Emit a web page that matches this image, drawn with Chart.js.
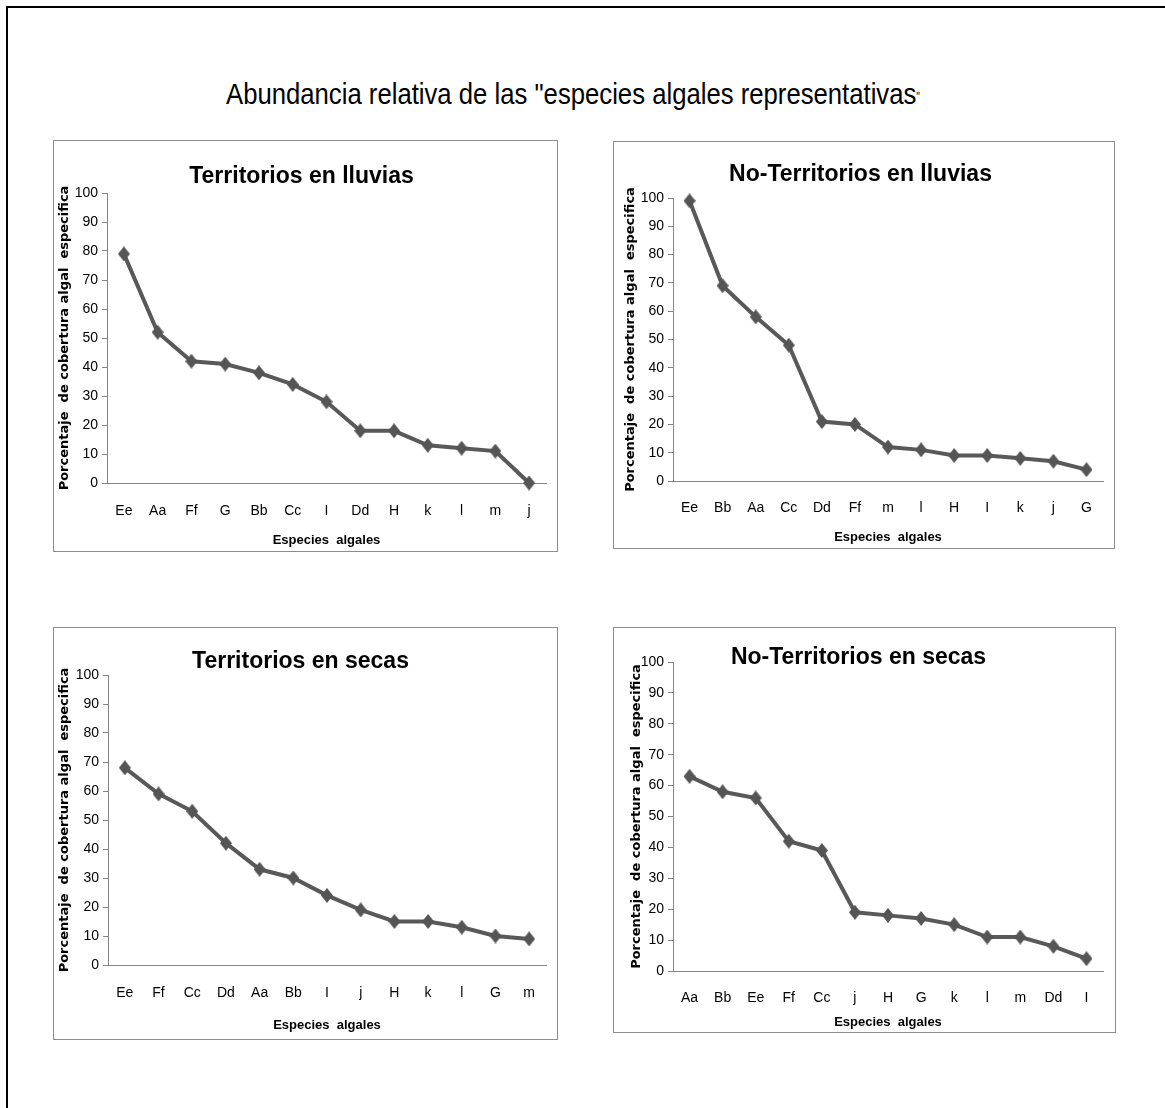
<!DOCTYPE html>
<html>
<head>
<meta charset="utf-8">
<script src="https://cdn.jsdelivr.net/npm/chart.js@4.4.1/dist/chart.umd.min.js"></script>
<style>
  body { margin: 0; background: #fff; width: 1165px; height: 1108px; position: relative; overflow: hidden;
         font-family: 'Liberation Sans', Arial, sans-serif; }
  #frame { position: absolute; left: 6px; top: 6px; width: 1300px; height: 1300px;
           border-top: 2px solid #000; border-left: 2px solid #000; }
  #title { position: absolute; left: 226px; top: 79px; font-size: 30px; line-height: 30px; white-space: nowrap;
           transform-origin: 0 0; color: #000; }
  #title .q { font-size: 12px; vertical-align: 3px; }
  .box { position: absolute; border: 1px solid #8c8c8c; background: #fff; }
  .box canvas { position: absolute; left: 0; top: 0; }
</style>
</head>
<body>
<div id="frame"></div>
<div id="title">Abundancia relativa de las "especies algales representativas<span class="q">"</span></div>

<script>
// categorias y valores de cada grafica
const catTerrLluvias = ['Ee', 'Aa', 'Ff', 'G', 'Bb', 'Cc', 'I', 'Dd', 'H', 'k', 'l', 'm', 'j'];
const valTerrLluvias = [79, 52, 42, 41, 38, 34, 28, 18, 18, 13, 12, 11, 0];

const catNoTerrLluvias = ['Ee', 'Bb', 'Aa', 'Cc', 'Dd', 'Ff', 'm', 'l', 'H', 'I', 'k', 'j', 'G'];
const valNoTerrLluvias = [99, 69, 58, 48, 21, 20, 12, 11, 9, 9, 8, 7, 4];

const catTerrSecas = ['Ee', 'Ff', 'Cc', 'Dd', 'Aa', 'Bb', 'I', 'j', 'H', 'k', 'l', 'G', 'm'];
const valTerrSecas = [68, 59, 53, 42, 33, 30, 24, 19, 15, 15, 13, 10, 9];

const catNoTerrSecas = ['Aa', 'Bb', 'Ee', 'Ff', 'Cc', 'j', 'H', 'G', 'k', 'l', 'm', 'Dd', 'I'];
const valNoTerrSecas = [63, 58, 56, 42, 39, 19, 18, 17, 15, 11, 11, 8, 4];

const yMin = 0, yMax = 100, yStep = 10;

const sans = "'Liberation Sans', Arial, sans-serif";
const lineColor = '#595959';
const markColor = '#555555';
const axisColor = '#868686';

// posicion de cada recuadro (box) y de su area de trazado (plot), en pixeles de la pagina
const panels = [
    { title: 'Territorios en lluvias', labels: catTerrLluvias, values: valTerrLluvias,
      box: [53, 140, 505, 412], plot: [107, 193, 549, 483], titleY: 177, tickY: 511, xTitleY: 540, yTitleX: 65 },
    { title: 'No-Territorios en lluvias', labels: catNoTerrLluvias, values: valNoTerrLluvias,
      box: [613, 141, 502, 408], plot: [673, 198, 1107, 481], titleY: 175, tickY: 508, xTitleY: 537, yTitleX: 631 },
    { title: 'Territorios en secas', labels: catTerrSecas, values: valTerrSecas,
      box: [53, 627, 505, 413], plot: [108, 675, 547, 965], titleY: 662, tickY: 993, xTitleY: 1025, yTitleX: 65 },
    { title: 'No-Territorios en secas', labels: catNoTerrSecas, values: valNoTerrSecas,
      box: [613, 627, 503, 406], plot: [673, 662, 1103, 971], titleY: 658, tickY: 998, xTitleY: 1022, yTitleX: 637 }
];

// rombo un poco mas alto que ancho, como el marcador de Excel
function diamond() {
    const c = document.createElement('canvas');
    c.width = 12;
    c.height = 15;
    const g = c.getContext('2d');
    g.fillStyle = markColor;
    g.beginPath();
    g.moveTo(6, 0);
    g.lineTo(12, 7.5);
    g.lineTo(6, 15);
    g.lineTo(0, 7.5);
    g.closePath();
    g.fill();
    return c;
}
const marker = diamond();

function buildPanel(p) {
    const [bx, by, bw, bh] = p.box;
    const ox = bx + 1, oy = by + 1, cw = bw - 2, ch = bh - 2;

    const div = document.createElement('div');
    div.className = 'box';
    div.style.left = bx + 'px';
    div.style.top = by + 'px';
    div.style.width = cw + 'px';
    div.style.height = ch + 'px';
    const canvas = document.createElement('canvas');
    canvas.width = cw;
    canvas.height = ch;
    canvas.style.width = cw + 'px';
    canvas.style.height = ch + 'px';
    div.appendChild(canvas);
    document.body.appendChild(div);

    const titleSize = 23, titleLH = titleSize * 1.2;
    const tPadTop = p.titleY - oy - titleLH / 2;
    const tPadBot = (p.plot[1] - oy) - tPadTop - titleLH;
    const yTitleLH = 13 * 1.2;
    const xTitleLH = 13 * 1.2;
    const tickLH = 14 * 1.2;

    new Chart(canvas, {
        type: 'line',
        data: {
            labels: p.labels,
            datasets: [{
                data: p.values,
                clip: false,
                borderColor: lineColor,
                borderWidth: 4,
                tension: 0,
                pointStyle: marker,
                pointRadius: 7,
                pointBackgroundColor: markColor,
                pointBorderColor: markColor
            }]
        },
        options: {
            responsive: false,
            animation: false,
            devicePixelRatio: 1,
            layout: { padding: { left: 0, top: 0, bottom: 0, right: ox + cw - p.plot[2] } },
            plugins: {
                legend: { display: false },
                tooltip: { enabled: false },
                title: {
                    display: true,
                    text: p.title,
                    color: '#000',
                    font: { family: sans, size: titleSize, weight: 'bold', lineHeight: 1.2 },
                    padding: { top: tPadTop, bottom: tPadBot }
                }
            },
            scales: {
                x: {
                    offset: true,
                    grid: { drawOnChartArea: false, drawTicks: false },
                    border: { display: true, color: axisColor, width: 1 },
                    ticks: {
                        color: '#000', autoSkip: false, maxRotation: 0,
                        font: { family: sans, size: 14, lineHeight: 1.2 },
                        padding: p.tickY - p.plot[3] - tickLH / 2
                    },
                    title: {
                        display: true,
                        text: 'Especies  algales',
                        color: '#000',
                        font: { family: sans, size: 13, weight: 'bold', lineHeight: 1.2 },
                        padding: { top: 0, bottom: oy + ch - p.xTitleY - xTitleLH / 2 }
                    },
                    afterFit: (s) => { s.height = oy + ch - p.plot[3]; }
                },
                y: {
                    min: yMin,
                    max: yMax,
                    grid: { drawOnChartArea: false, drawTicks: true, tickLength: 5, color: axisColor },
                    border: { display: true, color: axisColor, width: 1 },
                    ticks: {
                        stepSize: yStep, color: '#000', padding: 4,
                        font: { family: sans, size: 14 }
                    },
                    title: {
                        display: true,
                        text: 'Porcentaje  de cobertura algal  especifica',
                        color: '#000',
                        font: { family: 'DejaVu Sans', size: 13, weight: 'bold', lineHeight: 1.2 },
                        padding: { top: p.yTitleX - ox - yTitleLH / 2, bottom: 0 }
                    },
                    afterFit: (s) => { s.width = p.plot[0] - ox; }
                }
            }
        }
    });
}

panels.forEach(buildPanel);

// ajustar el ancho del titulo general al del original
const t = document.getElementById('title');
const w = t.getBoundingClientRect().width;
t.style.transform = 'scaleX(' + (694 / w) + ')';
</script>
</body>
</html>
